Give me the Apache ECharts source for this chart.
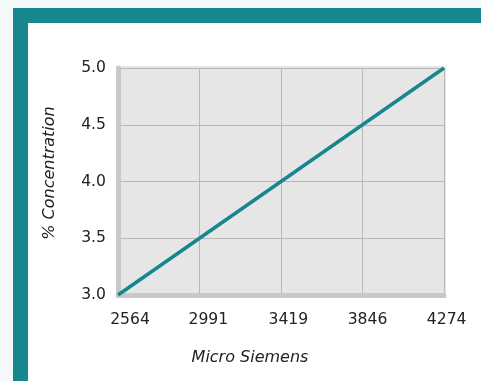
<!DOCTYPE html>
<html><head><meta charset="utf-8">
<script src="https://cdn.jsdelivr.net/npm/echarts@6/dist/echarts.min.js"></script>
<style>html,body{margin:0;padding:0;background:#f4f8f9;}#c{width:481px;height:381px;}</style>
</head><body><div id="c"></div>
<script>
const xLabels = ['2564', '2991', '3419', '3846', '4274'];
const concentration = [3.0, 3.5, 4.0, 4.5, 5.0];
const yTicks = [3.0, 3.5, 4.0, 4.5, 5.0];

const font = 'DejaVu Sans';
const tickFont = 15.6;
// horizontal shift (px, as left padding) of each x label
const labelPad = [24, 17.6, 14.6, 10, 5.4];
const rich = {};
labelPad.forEach((p, i) => {
  rich['l' + i] = {fontFamily: font, fontSize: tickFont, color: '#222', padding: [0, 0, 0, p]};
});

const chart = echarts.init(document.getElementById('c'));
chart.setOption({
  animation: false,
  backgroundColor: '#f4f8f9',
  graphic: [
    {type: 'rect', z: -100, shape: {x: 13, y: 8, width: 468, height: 373}, style: {fill: '#16868f'}},
    {type: 'rect', z: -99, shape: {x: 28, y: 23, width: 453, height: 358}, style: {fill: '#ffffff'}},
    {type: 'rect', z: -98, shape: {x: 116, y: 66, width: 330, height: 231}, style: {fill: '#e6e6e6'}}
  ],
  grid: {left: 118, right: 37, top: 68, bottom: 86, containLabel: false},
  xAxis: {
    type: 'category', data: xLabels, boundaryGap: false,
    name: 'Micro Siemens', nameLocation: 'middle', nameGap: 55,
    nameTextStyle: {fontFamily: font, fontStyle: 'italic', fontSize: 16, color: '#222', padding: [0, 62, 0, 0]},
    axisLine: {show: true, lineStyle: {color: '#c8c8c8', width: 5}},
    axisTick: {show: false},
    axisLabel: {interval: 0, hideOverlap: false, fontFamily: font, fontSize: tickFont, color: '#222', margin: 17, rich: rich,
      formatter: (v, i) => '{l' + i + '|' + v + '}'},
    splitLine: {show: true, interval: 0, lineStyle: {color: '#b8b8b8', width: 1}}
  },
  yAxis: {
    type: 'value', min: yTicks[0], max: yTicks[yTicks.length - 1], interval: 0.5,
    name: '% Concentration', nameLocation: 'middle', nameGap: 60, nameRotate: 90,
    nameTextStyle: {fontFamily: font, fontStyle: 'italic', fontSize: 16, color: '#222', padding: [0, 0, 0, 17]},
    axisLine: {show: true, lineStyle: {color: '#c8c8c8', width: 5}},
    axisTick: {show: false},
    axisLabel: {fontFamily: font, fontSize: tickFont, color: '#222', margin: 12,
      formatter: v => v.toFixed(1)},
    splitLine: {show: true, lineStyle: {color: '#b8b8b8', width: 1}}
  },
  series: [{
    type: 'line', data: concentration, symbol: 'none',
    lineStyle: {color: '#16868f', width: 3.5}
  }]
});
</script></body></html>
